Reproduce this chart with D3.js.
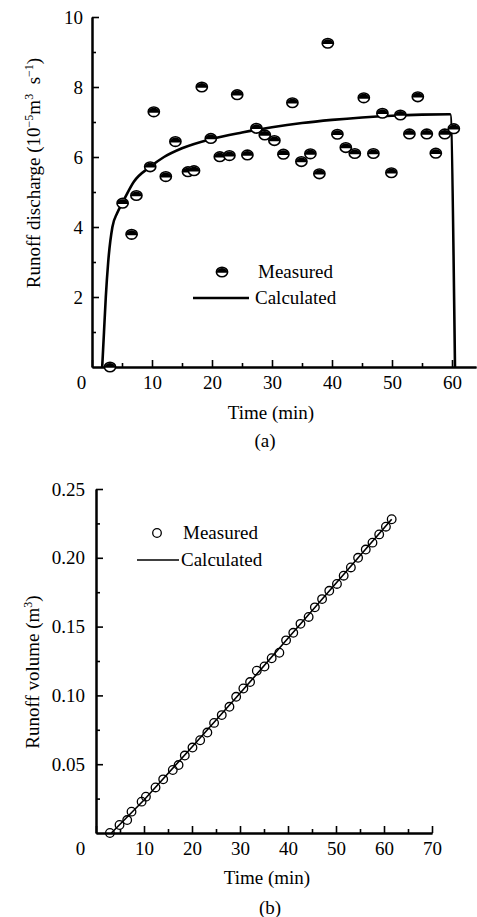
<!DOCTYPE html>
<html lang="en">
<head>
  <meta charset="UTF-8">
  <title>Runoff</title>
  <style>
    body { margin: 0; background: #fff; }
    svg text { font-family: "Liberation Serif", Times, "Times New Roman", "DejaVu Serif", serif; fill: #000; }
  </style>
</head>
<body>
  <svg width="477" height="917" class="svgs"></svg>
  <script src="https://cdn.jsdelivr.net/npm/d3@7/dist/d3.min.js"></script>
  <script>
    // (a) runoff discharge
    const qTime = [3, 5.1, 6.6, 7.4, 9.7, 10.3, 12.3, 13.9, 16.0, 17.0, 18.3, 19.8, 21.3, 22.9, 24.2, 25.9, 27.4, 28.8, 30.4, 31.9, 33.4, 34.9, 36.4, 37.9, 39.3, 40.9, 42.3, 43.8, 45.3, 46.9, 48.4, 49.9, 51.4, 52.9, 54.3, 55.8, 57.3, 58.8, 60.3]
    const qMeasured = [0, 4.68, 3.79, 4.9, 5.72, 7.29, 5.44, 6.44, 5.58, 5.61, 8.0, 6.53, 6.01, 6.04, 7.78, 6.06, 6.82, 6.63, 6.47, 6.08, 7.55, 5.87, 6.09, 5.52, 9.25, 6.65, 6.27, 6.10, 7.69, 6.10, 7.25, 5.55, 7.2, 6.66, 7.72, 6.66, 6.11, 6.66, 6.81]
    const qCalcTime = [1.7, 2.0, 2.3, 2.7, 3.4, 4.2, 5.1, 7, 9.7, 12, 15, 20, 25, 30, 35, 40, 45, 50, 55, 59.7, 60.5]
    const qCalc = [0, 1, 2, 3, 4, 4.4, 4.7, 5.3, 5.72, 6.0, 6.25, 6.52, 6.7, 6.85, 6.97, 7.06, 7.13, 7.18, 7.21, 7.22, 0]
    const qYTicks = [2, 4, 6, 8, 10]
    const qYMinor = [1, 3, 5, 7, 9]
    const qXTicks = [0, 10, 20, 30, 40, 50, 60]
    const qXMinor = [5, 15, 25, 35, 45, 55]

    // (b) runoff volume
    const vTime = [2.9, 4.9, 6.5, 7.4, 9.5, 10.4, 12.4, 14.0, 16.0, 17.2, 18.5, 20.1, 21.7, 23.2, 24.6, 26.2, 27.8, 29.2, 30.7, 32.1, 33.5, 35.1, 36.6, 38.2, 39.6, 41.1, 42.6, 44.3, 45.6, 47.1, 48.6, 50.2, 51.6, 53.1, 54.6, 56.2, 57.6, 59.0, 60.4, 61.6]
    const vMeasured = [0, 0.0058, 0.0094, 0.0155, 0.0228, 0.0264, 0.0331, 0.039, 0.0458, 0.0494, 0.0563, 0.0621, 0.0674, 0.073, 0.080, 0.0857, 0.0917, 0.099, 0.105, 0.1097, 0.118, 0.121, 0.127, 0.131, 0.140, 0.1455, 0.152, 0.157, 0.164, 0.170, 0.176, 0.181, 0.187, 0.193, 0.200, 0.206, 0.211, 0.217, 0.2226, 0.228]
    const vCalcTime = [3.2, 10, 20, 30, 40, 50, 61.6]
    const vCalc = [0, 0.024, 0.0625, 0.1015, 0.1415, 0.1815, 0.228]
    const vYTicks = [0.05, 0.10, 0.15, 0.20, 0.25]
    const vYMinor = [0.025, 0.075, 0.125, 0.175, 0.225]
    const vXTicks = [0, 10, 20, 30, 40, 50, 60, 70]
    const vXMinor = [5, 15, 25, 35, 45, 55, 65]

    const mainsvg = d3.select('.svgs')
    const fs = 19
    const serif = '"Liberation Serif", Times, "Times New Roman", "DejaVu Serif", serif'

    function styleAxis(sel) {
      sel.select('.domain').attr('stroke-width', 2)
      sel.selectAll('.tick line').attr('stroke-width', 1.6)
      sel.selectAll('.tick text').attr('font-size', fs)
        .attr('font-family', serif)
    }

    // ---------- chart (a) ----------
    const xA = d3.scaleLinear().domain([0, 64]).range([92, 476])
    const yA = d3.scaleLinear().domain([0, 10]).range([367, 17])

    const gA = mainsvg.append('g').attr('font-family', serif)

    gA.append('g').attr('transform', `translate(0, ${yA(0)})`)
      .call(d3.axisBottom(xA).tickValues(qXMinor).tickSize(-4).tickSizeOuter(0).tickFormat(''))
      .call(styleAxis)
    gA.append('g').attr('transform', `translate(0, ${yA(0)})`)
      .call(d3.axisBottom(xA).tickValues(qXTicks).tickSize(-7).tickSizeOuter(0).tickPadding(9))
      .call(styleAxis)
      .call(s => s.selectAll('.tick').filter(d => d === 0).select('text').attr('x', -11))

    gA.append('g').attr('transform', `translate(${xA(0)}, 0)`)
      .call(d3.axisLeft(yA).tickValues(qYMinor).tickSize(-4).tickSizeOuter(0).tickFormat(''))
      .call(styleAxis)
    gA.append('g').attr('transform', `translate(${xA(0)}, 0)`)
      .call(d3.axisLeft(yA).tickValues(qYTicks).tickSize(-7).tickSizeOuter(0).tickPadding(9))
      .call(styleAxis)

    const lineA = d3.line()
      .x(d => xA(d[0]))
      .y(d => yA(d[1]))
      .curve(d3.curveMonotoneX)
    gA.append('path')
      .datum(qCalcTime.map((t, i) => [t, qCalc[i]]))
      .attr('d', lineA)
      .attr('fill', 'none')
      .attr('stroke', '#000')
      .attr('stroke-width', 2.6)

    function halfMarker(g, x, y) {
      const rx = 5.6, ry = 4.8
      const m = g.append('g').attr('transform', `translate(${x}, ${y})`)
      m.append('ellipse').attr('rx', rx).attr('ry', ry)
        .attr('fill', '#fff').attr('stroke', '#000').attr('stroke-width', 1.6)
      m.append('path')
        .attr('d', `M ${-rx} 0.8 A ${rx} ${ry} 0 0 1 ${rx} 0.8 Z`)
        .attr('fill', '#000')
    }

    qTime.forEach((t, i) => halfMarker(gA, xA(t), yA(qMeasured[i])))

    // legend (a)
    halfMarker(gA, 222, 272)
    gA.append('text').text('Measured').attr('x', 258).attr('y', 278).attr('font-size', fs)
    gA.append('line').attr('x1', 193).attr('x2', 249).attr('y1', 298).attr('y2', 298)
      .attr('stroke', '#000').attr('stroke-width', 2.4)
    gA.append('text').text('Calculated').attr('x', 255).attr('y', 304).attr('font-size', fs)

    gA.append('text').text('Time (min)')
      .attr('x', 271).attr('y', 419).attr('text-anchor', 'middle').attr('font-size', fs)
    gA.append('text').text('(a)')
      .attr('x', 265).attr('y', 447).attr('text-anchor', 'middle').attr('font-size', fs)

    const labA = gA.append('text')
      .attr('transform', 'translate(40, 173) rotate(-90)')
      .attr('text-anchor', 'middle')
      .attr('font-size', fs)
    labA.append('tspan').text('Runoff discharge (10')
    labA.append('tspan').text('−5').attr('font-size', 12).attr('dy', -7)
    labA.append('tspan').text('m').attr('dy', 7)
    labA.append('tspan').text('3').attr('font-size', 12).attr('dy', -7)
    labA.append('tspan').text('\u00a0\u00a0s').attr('dy', 7)
    labA.append('tspan').text('−1').attr('font-size', 12).attr('dy', -7)
    labA.append('tspan').text(')').attr('dy', 7)

    // ---------- chart (b) ----------
    const xB = d3.scaleLinear().domain([0, 70]).range([96, 432])
    const yB = d3.scaleLinear().domain([0, 0.25]).range([833, 489])

    const gB = mainsvg.append('g').attr('font-family', serif)

    gB.append('g').attr('transform', `translate(0, ${yB(0)})`)
      .call(d3.axisBottom(xB).tickValues(vXMinor).tickSize(-4).tickSizeOuter(0).tickFormat(''))
      .call(styleAxis)
    gB.append('g').attr('transform', `translate(0, ${yB(0)})`)
      .call(d3.axisBottom(xB).tickValues(vXTicks).tickSize(-7).tickSizeOuter(0).tickPadding(9))
      .call(styleAxis)
      .call(s => s.selectAll('.tick').filter(d => d === 0).select('text').attr('x', -16))

    gB.append('g').attr('transform', `translate(${xB(0)}, 0)`)
      .call(d3.axisLeft(yB).tickValues(vYMinor).tickSize(-4).tickSizeOuter(0).tickFormat(''))
      .call(styleAxis)
    gB.append('g').attr('transform', `translate(${xB(0)}, 0)`)
      .call(d3.axisLeft(yB).tickValues(vYTicks).tickSize(-7).tickSizeOuter(0).tickPadding(11).tickFormat(d3.format('.2f')))
      .call(styleAxis)

    const lineB = d3.line()
      .x(d => xB(d[0]))
      .y(d => yB(d[1]))
    gB.append('path')
      .datum(vCalcTime.map((t, i) => [t, vCalc[i]]))
      .attr('d', lineB)
      .attr('fill', 'none')
      .attr('stroke', '#000')
      .attr('stroke-width', 1.6)

    vTime.forEach((t, i) => {
      gB.append('circle')
        .attr('cx', xB(t)).attr('cy', yB(vMeasured[i])).attr('r', 4.3)
        .attr('fill', 'none').attr('stroke', '#000').attr('stroke-width', 1.3)
    })

    // legend (b)
    gB.append('circle').attr('cx', 157).attr('cy', 533).attr('r', 4.3)
      .attr('fill', 'none').attr('stroke', '#000').attr('stroke-width', 1.3)
    gB.append('text').text('Measured').attr('x', 183).attr('y', 539).attr('font-size', fs)
    gB.append('line').attr('x1', 137).attr('x2', 179).attr('y1', 560).attr('y2', 560)
      .attr('stroke', '#000').attr('stroke-width', 1.6)
    gB.append('text').text('Calculated').attr('x', 181).attr('y', 566).attr('font-size', fs)

    gB.append('text').text('Time (min)')
      .attr('x', 267).attr('y', 884).attr('text-anchor', 'middle').attr('font-size', fs)
    gB.append('text').text('(b)')
      .attr('x', 270).attr('y', 914).attr('text-anchor', 'middle').attr('font-size', fs)

    const labB = gB.append('text')
      .attr('transform', 'translate(39, 672) rotate(-90)')
      .attr('text-anchor', 'middle')
      .attr('font-size', fs)
    labB.append('tspan').text('Runoff volume (m')
    labB.append('tspan').text('3').attr('font-size', 12).attr('dy', -7)
    labB.append('tspan').text(')').attr('dy', 7)
  </script>
</body>
</html>
